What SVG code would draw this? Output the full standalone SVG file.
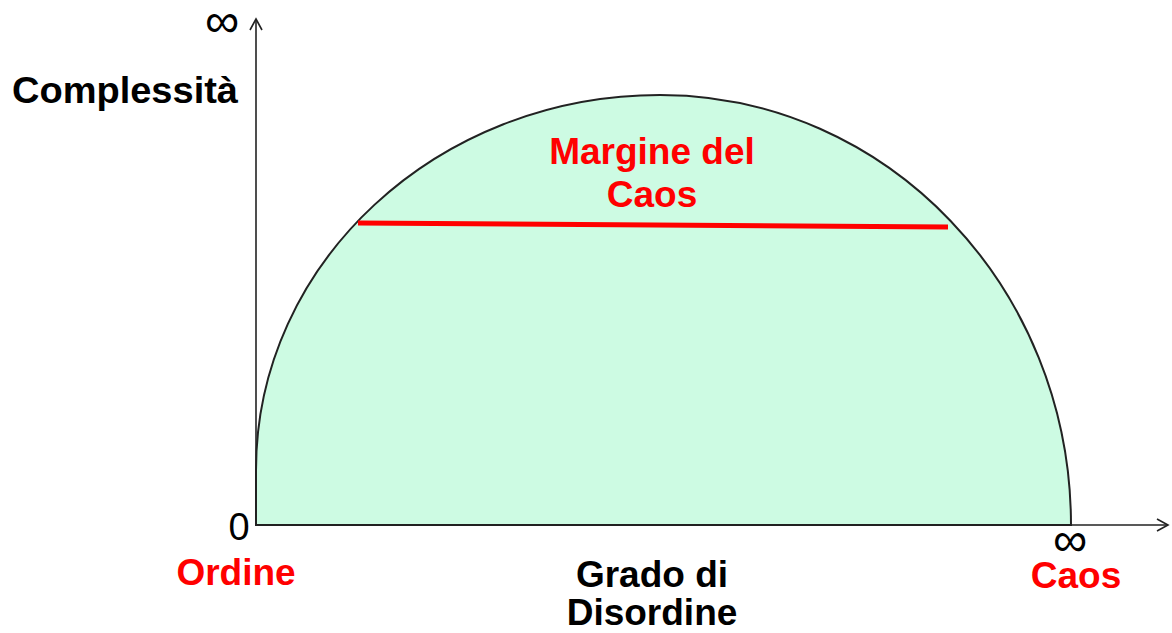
<svg xmlns="http://www.w3.org/2000/svg" width="1172" height="633" viewBox="0 0 1172 633">
<style>
.lbl{font-family:"Liberation Sans",Arial,sans-serif;font-weight:bold;font-size:37px}
.red{fill:#ff0000}
.blk{fill:#000}
.sym{font-family:"Liberation Sans",Arial,sans-serif;font-size:48px;fill:#000}
.axis{stroke:#222;stroke-width:1.6;fill:none}
</style>
<defs>
<marker id="arr" markerWidth="14" markerHeight="14" refX="12" refY="7" orient="auto" markerUnits="userSpaceOnUse">
<path d="M1,1 L12,7 L1,13" fill="none" stroke="#222" stroke-width="1.6"/>
</marker>
</defs>
<rect width="1172" height="633" fill="#fff"/>
<g id="region">
<path d="M256,525 L256,470 C256,263 437,95 660,95 C887,95 1071,287.5 1071,525 Z" fill="#cdfbe3" stroke="#222" stroke-width="2"/>
</g>
<g id="connectors">
<line class="axis" x1="256" y1="526" x2="256" y2="19" marker-end="url(#arr)"/>
<line class="axis" x1="255" y1="525" x2="1168" y2="525" marker-end="url(#arr)"/>
<line x1="358" y1="223" x2="948" y2="227" stroke="#ff0000" stroke-width="5"/>
</g>
<g id="labels">
<text class="sym" x="222" y="37" text-anchor="middle">∞</text>
<text class="lbl blk" x="12" y="103" textLength="226" lengthAdjust="spacingAndGlyphs">Complessità</text>
<text class="lbl red" x="652" y="164" text-anchor="middle">Margine del</text>
<text class="lbl red" x="652" y="207" text-anchor="middle">Caos</text>
<text x="239" y="540" text-anchor="middle" style="font-family:'Liberation Sans',Arial,sans-serif;font-size:38px">0</text>
<text class="sym" x="1070" y="556" text-anchor="middle">∞</text>
<text class="lbl red" x="236" y="585" text-anchor="middle">Ordine</text>
<text class="lbl blk" x="652" y="587" text-anchor="middle">Grado di</text>
<text class="lbl blk" x="652" y="625" text-anchor="middle">Disordine</text>
<text class="lbl red" x="1076" y="588" text-anchor="middle">Caos</text>
</g>
</svg>
